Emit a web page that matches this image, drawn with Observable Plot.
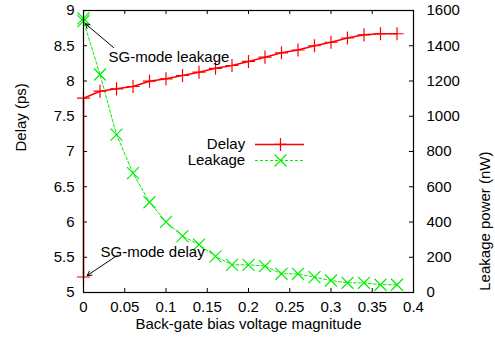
<!DOCTYPE html>
<html><head><meta charset="utf-8">
<script src="https://cdn.jsdelivr.net/npm/d3@7"></script>
<script src="https://cdn.jsdelivr.net/npm/@observablehq/plot@0.6"></script>
<style>body{margin:0;background:#fff}</style>
</head><body><div id="chart"></div>
<script>
// Back-gate bias magnitude (V); first entry is the SG-mode point at 0
const bias = [0, 0, 0.02, 0.04, 0.06, 0.08, 0.10, 0.12, 0.14, 0.16, 0.18, 0.20, 0.22, 0.24, 0.26, 0.28, 0.30, 0.32, 0.34, 0.36, 0.38];
const delayPs = [5.22, 7.756, 7.855, 7.889, 7.922, 7.997, 8.031, 8.078, 8.125, 8.18, 8.22, 8.277, 8.338, 8.40, 8.44, 8.50, 8.55, 8.61, 8.655, 8.67, 8.67];
const leakageNw = [1555, 1540, 1237, 896, 677, 512, 401, 320, 272, 205, 157, 157, 150, 106, 106, 87, 68, 55, 55, 44, 44];
const delayTicks = [5, 5.5, 6, 6.5, 7, 7.5, 8, 8.5, 9];
const leakageTicks = [0, 200, 400, 600, 800, 1000, 1200, 1400, 1600];
const biasTicks = [0, 0.05, 0.1, 0.15, 0.2, 0.25, 0.3, 0.35, 0.4];
const legendLabels = ["Delay", "Leakage"];
const annotations = [
  {text: "SG-mode leakage", x: 0.0303, y: 8.333, x1: 0.0364, y1: 8.475, x2: 0.0024, y2: 8.811},
  {text: "SG-mode delay", x: 0.0206, y: 5.572, x1: 0.0408, y1: 5.525, x2: 0.0045, y2: 5.241}
];

const delayMin = 5, delayMax = 9, leakMax = 1600;
const leakToDelay = v => delayMin + v * (delayMax - delayMin) / leakMax;

const delayRows = bias.map((b, i) => ({bias: b, value: delayPs[i]}));
const leakRows = bias.map((b, i) => ({bias: b, value: leakToDelay(leakageNw[i])}));

const RED = "#ff0000", GREEN = "#00ee00";
const legendX = 0.196, legendY = [7.1, 6.872], sampleX1 = 0.2085, sampleX2 = 0.268, sampleMid = 0.2388;

const chart = Plot.plot({
  width: 495, height: 343,
  marginLeft: 83, marginRight: 82, marginTop: 10, marginBottom: 51,
  style: {fontFamily: "'Liberation Sans', Arial, sans-serif", fontSize: "15px", color: "#000", background: "#fff"},
  x: {domain: [0, 0.4]},
  y: {domain: [delayMin, delayMax]},
  marks: [
    // inward ticks
    Plot.tickY(delayTicks, {y: d => d, insetRight: 326, stroke: "#000"}),
    Plot.tickY(leakageTicks, {y: d => leakToDelay(d), insetLeft: 326, stroke: "#000"}),
    Plot.tickX(biasTicks, {x: d => d, insetTop: 278, stroke: "#000"}),
    Plot.tickX(biasTicks, {x: d => d, insetBottom: 278, stroke: "#000"}),
    Plot.axisY(delayTicks, {anchor: "left", tickSize: 0, tickPadding: 9, tickFormat: d => String(d), label: null}),
    Plot.axisY(leakageTicks.map(leakToDelay), {anchor: "right", tickSize: 0, tickPadding: 13, tickFormat: d => String(Math.round((d - delayMin) * leakMax / (delayMax - delayMin))), label: null}),
    Plot.axisX(biasTicks, {anchor: "bottom", tickSize: 0, tickPadding: 9, tickFormat: d => String(d), label: null}),
    Plot.text(["Delay (ps)"], {frameAnchor: "left", dx: -62, rotate: -90}),
    Plot.text(["Leakage power (nW)"], {frameAnchor: "right", dx: 72, rotate: -90}),
    Plot.text(["Back-gate bias voltage magnitude"], {frameAnchor: "bottom", dy: 36}),
    // series
    Plot.line(leakRows, {x: "bias", y: "value", stroke: GREEN, strokeWidth: 1, strokeDasharray: "3,2"}),
    Plot.dot(leakRows, {x: "bias", y: "value", symbol: "times", r: 5.5, stroke: GREEN, strokeWidth: 1.2}),
    Plot.line(delayRows, {x: "bias", y: "value", stroke: RED, strokeWidth: 1.5}),
    Plot.dot(delayRows, {x: "bias", y: "value", symbol: "plus", r: 4.3, stroke: RED, strokeWidth: 1.2}),
    Plot.frame({stroke: "#000", strokeWidth: 1.2}),
    // legend
    Plot.text(legendLabels, {x: legendX, y: (d, i) => legendY[i], text: d => d, textAnchor: "end"}),
    Plot.ruleY([legendY[0]], {x1: sampleX1, x2: sampleX2, stroke: RED, strokeWidth: 1.5}),
    Plot.dot([legendY[0]], {x: sampleMid, y: d => d, symbol: "plus", r: 4.3, stroke: RED, strokeWidth: 1.2}),
    Plot.ruleY([legendY[1]], {x1: sampleX1, x2: sampleX2, stroke: GREEN, strokeWidth: 1, strokeDasharray: "3,2"}),
    Plot.dot([legendY[1]], {x: sampleMid, y: d => d, symbol: "times", r: 5.5, stroke: GREEN, strokeWidth: 1.2}),
    // annotations
    Plot.arrow(annotations, {x1: "x1", y1: "y1", x2: "x2", y2: "y2", stroke: "#000", strokeWidth: 1, headLength: 7}),
    Plot.text(annotations, {x: "x", y: "y", text: "text", textAnchor: "start"})
  ]
});
document.getElementById("chart").appendChild(chart);
</script>
</body></html>
